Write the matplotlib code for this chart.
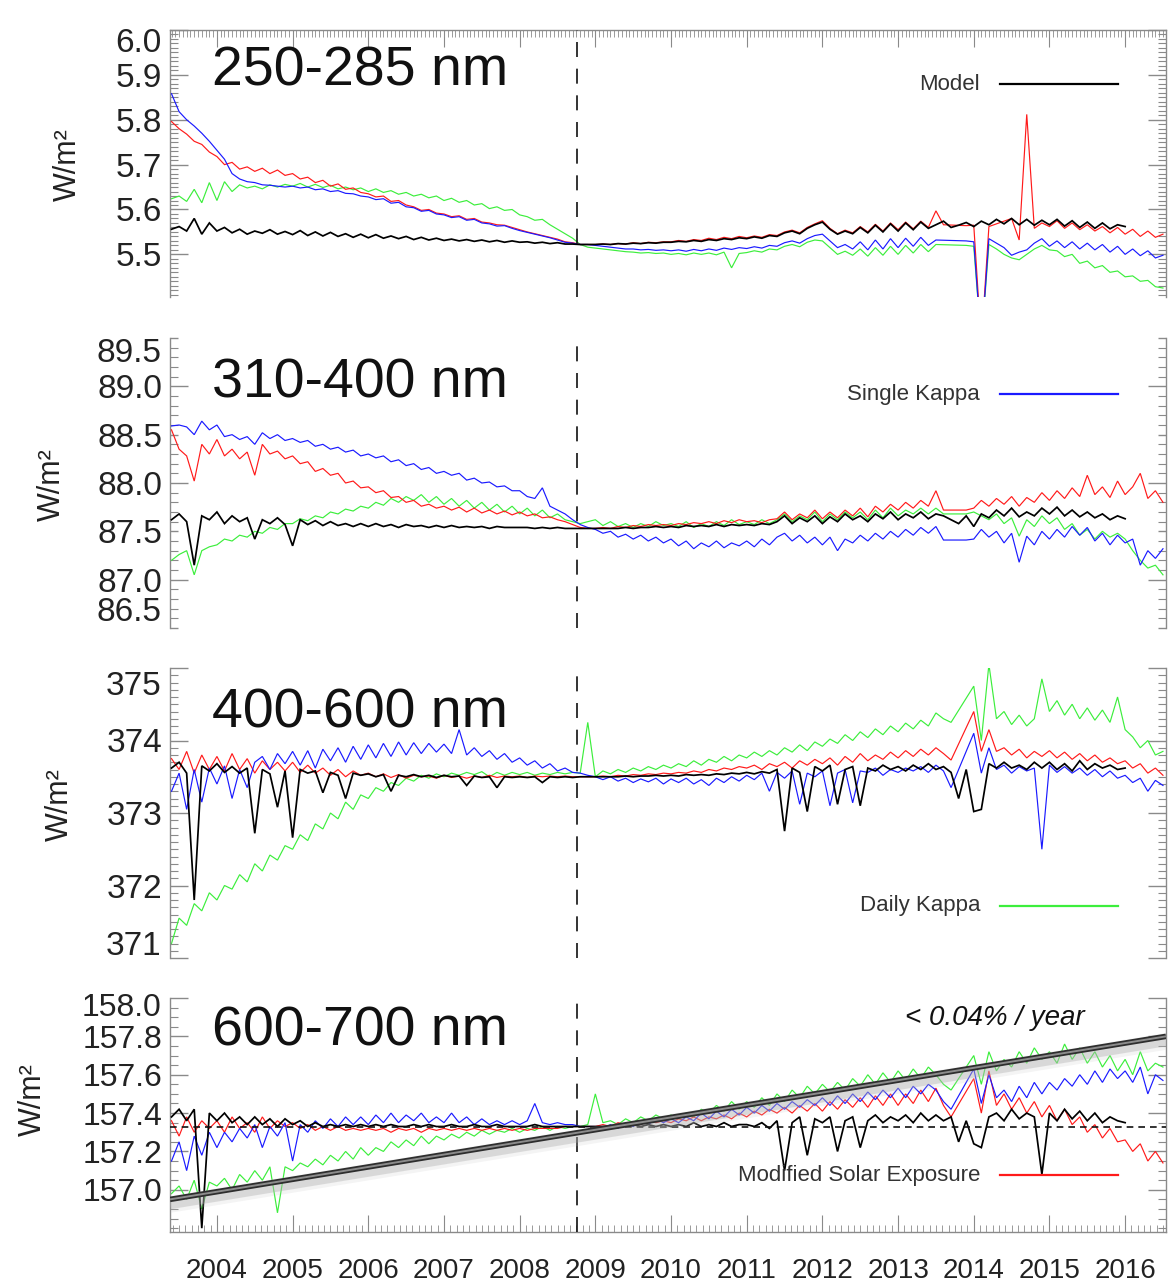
import numpy as np
import matplotlib
matplotlib.use("Agg")
import matplotlib.pyplot as plt
from matplotlib.lines import Line2D
from matplotlib.ticker import MultipleLocator, FixedLocator
import matplotlib.transforms as mtransforms

plt.rcParams['font.family'] = ['Liberation Sans', 'DejaVu Sans']

nan = float('nan')

# ---------------- data ----------------
years = np.round(2003.4 + 0.1 * np.arange(132), 2)   # sampling dates (decimal year)
year_ticks = list(range(2004, 2017))
split_year = 2008.76
x_range = [2003.38, 2016.54]

# ---- 250-285 nm ----
p1_model = [5.556, 5.562, 5.552, 5.580, 5.545, 5.570,
            5.552, 5.560, 5.548, 5.556, 5.545, 5.552, 5.547, 5.555, 5.545, 5.551,
            5.544, 5.553, 5.542, 5.550, 5.541, 5.549, 5.540, 5.546, 5.538, 5.545,
            5.537, 5.544, 5.536, 5.541, 5.535, 5.540, 5.533, 5.538, 5.532, 5.536,
            5.531, 5.534, 5.530, 5.533, 5.529, 5.532, 5.528, 5.531, 5.527, 5.530,
            5.527, 5.528, 5.525, 5.527, 5.524, 5.526, 5.523, 5.523, 5.522, 5.522,
            5.522, 5.523, 5.522, 5.524, 5.523, 5.525, 5.524, 5.526, 5.525, 5.527,
            5.527, 5.529, 5.528, 5.531, 5.529, 5.533, 5.531, 5.535, 5.533, 5.537,
            5.535, 5.539, 5.536, 5.542, 5.540, 5.548, 5.552, 5.546, 5.558, 5.566,
            5.572, 5.556, 5.545, 5.552, 5.546, 5.560, 5.548, 5.565, 5.550, 5.568,
            5.552, 5.570, 5.555, 5.572, 5.558, 5.566, 5.574, 5.560, 5.565, 5.571,
            5.562, 5.574, 5.566, 5.578, 5.568, 5.580, 5.566, 5.578, 5.565, 5.576,
            5.566, 5.578, 5.563, 5.575, 5.560, 5.572, 5.558, 5.570, 5.557, 5.566,
            5.562, nan, nan, nan, nan, nan]
p1_single = [5.858, 5.818, 5.800, 5.786, 5.770, 5.752,
             5.732, 5.712, 5.680, 5.668, 5.662, 5.660, 5.655, 5.654, 5.652, 5.650,
             5.652, 5.648, 5.650, 5.644, 5.646, 5.640, 5.642, 5.636, 5.635, 5.630,
             5.628, 5.622, 5.624, 5.614, 5.616, 5.606, 5.604, 5.596, 5.598, 5.590,
             5.588, 5.582, 5.584, 5.576, 5.578, 5.570, 5.568, 5.563, 5.564, 5.558,
             5.553, 5.549, 5.545, 5.541, 5.537, 5.532, 5.527, 5.525, 5.522, 5.522,
             5.520, 5.518, 5.516, 5.514, 5.512, 5.512, 5.510, 5.511, 5.509, 5.510,
             5.508, 5.510, 5.507, 5.511, 5.508, 5.512, 5.509, 5.514, 5.511, 5.515,
             5.513, 5.517, 5.514, 5.520, 5.518, 5.526, 5.530, 5.525, 5.535, 5.542,
             5.545, 5.530, 5.515, 5.522, 5.512, 5.528, 5.510, 5.532, 5.512, 5.535,
             5.515, 5.536, 5.518, 5.538, 5.520, 5.532, nan, nan, nan, 5.530,
             5.528, 5.300, 5.535, 5.525, 5.515, 5.498, 5.505, 5.510, 5.525, 5.535,
             5.518, 5.530, 5.515, 5.528, 5.512, 5.525, 5.510, 5.522, 5.505, 5.518,
             5.500, 5.512, 5.497, 5.508, 5.492, 5.498]
p1_daily = [5.624, 5.630, 5.618, 5.645, 5.615, 5.660,
            5.620, 5.662, 5.640, 5.655, 5.648, 5.652, 5.646, 5.655, 5.650, 5.656,
            5.652, 5.658, 5.650, 5.656, 5.649, 5.654, 5.646, 5.650, 5.644, 5.648,
            5.640, 5.646, 5.638, 5.642, 5.634, 5.638, 5.630, 5.634, 5.626, 5.630,
            5.620, 5.625, 5.616, 5.620, 5.610, 5.613, 5.602, 5.606, 5.598, 5.600,
            5.588, 5.584, 5.576, 5.578, 5.566, 5.556, 5.546, 5.536, 5.522, 5.516,
            5.514, 5.512, 5.510, 5.508, 5.506, 5.505, 5.503, 5.504, 5.502, 5.503,
            5.500, 5.502, 5.499, 5.503, 5.500, 5.503, 5.499, 5.505, 5.470, 5.502,
            5.504, 5.508, 5.505, 5.512, 5.510, 5.518, 5.522, 5.517, 5.527, 5.532,
            5.530, 5.515, 5.500, 5.507, 5.498, 5.512, 5.496, 5.515, 5.498, 5.518,
            5.500, 5.520, 5.503, 5.522, 5.506, 5.522, nan, nan, nan, 5.520,
            5.518, 5.300, 5.522, 5.512, 5.500, 5.492, 5.488, 5.500, 5.512, 5.520,
            5.510, 5.508, 5.495, 5.500, 5.480, 5.485, 5.470, 5.475, 5.460, 5.463,
            5.450, 5.452, 5.440, 5.442, 5.428, 5.425]
p1_mse = [5.796, 5.780, 5.768, 5.752, 5.745, 5.728,
          5.718, 5.700, 5.705, 5.690, 5.695, 5.685, 5.692, 5.680, 5.688, 5.676,
          5.680, 5.668, 5.672, 5.660, 5.665, 5.652, 5.657, 5.645, 5.648, 5.638,
          5.635, 5.628, 5.630, 5.618, 5.620, 5.610, 5.606, 5.598, 5.600, 5.592,
          5.590, 5.584, 5.586, 5.578, 5.580, 5.572, 5.570, 5.566, 5.565, 5.560,
          5.555, 5.550, 5.546, 5.542, 5.538, 5.534, 5.528, 5.526, 5.522, 5.522,
          5.522, 5.523, 5.522, 5.524, 5.523, 5.526, 5.524, 5.527, 5.526, 5.528,
          5.528, 5.531, 5.529, 5.533, 5.531, 5.536, 5.533, 5.538, 5.535, 5.540,
          5.537, 5.541, 5.538, 5.544, 5.542, 5.550, 5.554, 5.548, 5.560, 5.568,
          5.575, 5.558, 5.546, 5.554, 5.548, 5.562, 5.550, 5.567, 5.552, 5.570,
          5.555, 5.572, 5.557, 5.574, 5.560, 5.597, 5.566, nan, nan, 5.564,
          5.565, 5.300, 5.562, nan, nan, 5.580, 5.532, 5.812, 5.558, 5.570,
          5.562, 5.575, 5.558, 5.570, 5.555, 5.566, 5.552, 5.562, 5.548, 5.560,
          5.545, 5.556, 5.540, 5.552, 5.538, 5.545]

# ---- 310-400 nm ----
p2_model = [87.62, 87.68, 87.60, 87.15, 87.66, 87.62,
            87.70, 87.58, 87.66, 87.60, 87.64, 87.42, 87.62, 87.58, 87.64, 87.57,
            87.35, 87.62, 87.57, 87.61, 87.56, 87.60, 87.56, 87.58, 87.55, 87.58,
            87.55, 87.58, 87.55, 87.57, 87.54, 87.57, 87.55, 87.56, 87.54, 87.56,
            87.54, 87.56, 87.54, 87.55, 87.54, 87.55, 87.53, 87.55, 87.54, 87.54,
            87.54, 87.54, 87.53, 87.54, 87.53, 87.54, 87.53, 87.53, 87.53, 87.53,
            87.53, 87.53, 87.53, 87.53, 87.54, 87.53, 87.54, 87.54, 87.55, 87.54,
            87.55, 87.54, 87.56, 87.55, 87.56, 87.55, 87.57, 87.55, 87.57, 87.56,
            87.57, 87.56, 87.58, 87.57, 87.60, 87.66, 87.58, 87.64, 87.60, 87.66,
            87.58, 87.65, 87.60, 87.68, 87.62, 87.66, 87.60, 87.68, 87.63, 87.70,
            87.62, 87.68, 87.64, 87.70, 87.63, 87.68, 87.66, 87.62, 87.58, 87.66,
            87.55, 87.68, 87.64, 87.72, 87.66, 87.74, 87.65, 87.70, 87.66, 87.74,
            87.68, 87.75, 87.66, 87.72, 87.65, 87.70, 87.64, 87.68, 87.62, 87.66,
            87.63, nan, nan, nan, nan, nan]
p2_single = [88.59, 88.60, 88.58, 88.50, 88.64, 88.55,
             88.60, 88.48, 88.50, 88.45, 88.48, 88.40, 88.52, 88.46, 88.50, 88.44,
             88.46, 88.42, 88.44, 88.38, 88.40, 88.35, 88.37, 88.32, 88.34, 88.28,
             88.30, 88.26, 88.28, 88.22, 88.24, 88.18, 88.20, 88.14, 88.16, 88.10,
             88.12, 88.08, 88.10, 88.03, 88.05, 88.00, 88.01, 87.96, 87.97, 87.92,
             87.92, 87.86, 87.84, 87.95, 87.76, 87.72, 87.68, 87.62, 87.57, 87.54,
             87.52, 87.48, 87.50, 87.44, 87.47, 87.42, 87.46, 87.40, 87.44, 87.38,
             87.42, 87.35, 87.40, 87.32, 87.38, 87.34, 87.40, 87.33, 87.38, 87.35,
             87.40, 87.34, 87.42, 87.36, 87.44, 87.48, 87.40, 87.46, 87.38, 87.44,
             87.36, 87.44, 87.30, 87.42, 87.38, 87.46, 87.40, 87.48, 87.42, 87.50,
             87.44, 87.52, 87.46, 87.54, 87.48, 87.55, 87.41, nan, nan, 87.41,
             87.42, 87.52, 87.44, 87.50, 87.38, 87.48, 87.18, 87.45, 87.36, 87.50,
             87.42, 87.52, 87.44, 87.55, 87.46, 87.54, 87.40, 87.48, 87.36, 87.46,
             87.38, 87.42, 87.15, 87.30, 87.22, 87.32]
p2_daily = [87.20, 87.26, 87.30, 87.05, 87.30, 87.34,
            87.36, 87.42, 87.40, 87.46, 87.44, 87.50, 87.48, 87.54, 87.52, 87.58,
            87.58, 87.63, 87.61, 87.66, 87.64, 87.70, 87.68, 87.73, 87.71, 87.76,
            87.74, 87.80, 87.77, 87.84, 87.80, 87.86, 87.82, 87.88, 87.80, 87.86,
            87.78, 87.84, 87.76, 87.82, 87.74, 87.80, 87.72, 87.78, 87.70, 87.76,
            87.68, 87.74, 87.66, 87.72, 87.64, 87.68, 87.62, 87.60, 87.58, 87.60,
            87.62, 87.56, 87.60, 87.55, 87.58, 87.54, 87.58, 87.55, 87.60, 87.56,
            87.58, 87.55, 87.60, 87.54, 87.58, 87.55, 87.60, 87.56, 87.62, 87.57,
            87.60, 87.57, 87.62, 87.58, 87.62, 87.68, 87.60, 87.66, 87.62, 87.70,
            87.60, 87.68, 87.62, 87.70, 87.64, 87.70, 87.62, 87.72, 87.64, 87.74,
            87.66, 87.72, 87.68, 87.74, 87.68, 87.74, 87.68, nan, nan, 87.68,
            87.70, 87.66, 87.62, 87.68, 87.58, 87.64, 87.45, 87.62, 87.55, 87.66,
            87.58, 87.64, 87.52, 87.58, 87.46, 87.52, 87.42, 87.50, 87.44, 87.48,
            87.42, 87.30, 87.20, 87.12, 87.15, 87.05]
p2_mse = [88.55, 88.35, 88.28, 88.02, 88.40, 88.30,
          88.45, 88.28, 88.35, 88.25, 88.32, 88.08, 88.40, 88.30, 88.33, 88.25,
          88.28, 88.20, 88.22, 88.12, 88.15, 88.08, 88.10, 88.00, 88.02, 87.95,
          87.96, 87.90, 87.92, 87.85, 87.86, 87.80, 87.82, 87.76, 87.78, 87.74,
          87.76, 87.72, 87.75, 87.70, 87.74, 87.69, 87.72, 87.68, 87.71, 87.67,
          87.70, 87.66, 87.68, 87.64, 87.65, 87.62, 87.60, 87.57, 87.54, 87.53,
          87.53, 87.54, 87.53, 87.55, 87.54, 87.56, 87.55, 87.57, 87.56, 87.57,
          87.56, 87.58, 87.57, 87.59, 87.58, 87.60, 87.58, 87.61, 87.59, 87.62,
          87.60, 87.61, 87.59, 87.62, 87.63, 87.70, 87.62, 87.68, 87.64, 87.72,
          87.63, 87.70, 87.64, 87.72, 87.66, 87.74, 87.65, 87.76, 87.70, 87.78,
          87.72, 87.80, 87.74, 87.82, 87.76, 87.92, 87.72, nan, nan, 87.72,
          87.74, 87.82, 87.76, 87.84, 87.78, 87.86, 87.76, 87.85, 87.80, 87.90,
          87.82, 87.92, 87.84, 87.95, 87.86, 88.08, 87.88, 87.96, 87.85, 88.02,
          87.88, 87.96, 88.10, 87.84, 87.92, 87.80]

# ---- 400-600 nm ----
p3_model = [373.62, 373.70, 373.55, 371.80, 373.65, 373.58,
            373.68, 373.56, 373.64, 373.55, 373.62, 372.72, 373.60, 373.54, 373.08, 373.58,
            372.66, 373.60, 373.55, 373.58, 373.28, 373.56, 373.52, 373.20, 373.55, 373.52,
            373.54, 373.50, 373.53, 373.30, 373.52, 373.50, 373.53, 373.50, 373.52, 373.49,
            373.52, 373.50, 373.51, 373.38, 373.51, 373.49, 373.50, 373.35, 373.50, 373.49,
            373.50, 373.49, 373.50, 373.42, 373.50, 373.49, 373.50, 373.49, 373.50, 373.50,
            373.50, 373.50, 373.50, 373.50, 373.51, 373.50, 373.51, 373.51, 373.52, 373.51,
            373.52, 373.51, 373.53, 373.52, 373.53, 373.52, 373.54, 373.53, 373.55, 373.54,
            373.56, 373.54, 373.57, 373.55, 373.60, 372.75, 373.62, 373.56, 373.02, 373.64,
            373.58, 373.66, 373.12, 373.60, 373.64, 373.10, 373.62, 373.58, 373.66, 373.60,
            373.64, 373.58, 373.66, 373.60, 373.68, 373.60, 373.64, 373.56, 373.20, 373.60,
            373.02, 373.05, 373.68, 373.62, 373.70, 373.62, 373.66, 373.60, 373.70, 373.62,
            373.70, 373.60, 373.68, 373.58, 373.72, 373.60, 373.68, 373.62, 373.66, 373.60,
            373.62, nan, nan, nan, nan, nan]
p3_single = [373.30, 373.55, 373.05, 373.60, 373.15, 373.62,
             373.40, 373.65, 373.20, 373.60, 373.35, 373.70, 373.78, 373.60, 373.82, 373.68,
             373.85, 373.66, 373.86, 373.62, 373.88, 373.72, 373.90, 373.70, 373.92, 373.74,
             373.94, 373.76, 373.96, 373.78, 373.98, 373.80, 373.97, 373.82, 373.96, 373.84,
             373.95, 373.82, 374.15, 373.80, 373.90, 373.78, 373.86, 373.74, 373.82, 373.70,
             373.76, 373.66, 373.72, 373.62, 373.68, 373.58, 373.62, 373.56, 373.55, 373.52,
             373.50, 373.46, 373.50, 373.44, 373.48, 373.42, 373.47, 373.43, 373.48, 373.40,
             373.47, 373.42, 373.48, 373.40, 373.46, 373.38, 373.48, 373.42, 373.50, 373.44,
             373.52, 373.46, 373.55, 373.30, 373.56, 373.48, 373.58, 373.12, 373.55, 373.50,
             373.58, 373.10, 373.55, 373.60, 373.14, 373.58, 373.56, 373.62, 373.52, 373.60,
             373.56, 373.62, 373.58, 373.64, 373.56, 373.66, 373.58, 373.35, nan, nan,
             374.10, 373.55, 373.90, 373.60, 373.66, 373.55, 373.64, 373.58, 373.62, 372.50,
             373.66, 373.56, 373.64, 373.55, 373.62, 373.52, 373.60, 373.50, 373.58, 373.48,
             373.52, 373.42, 373.48, 373.30, 373.45, 373.38]
p3_daily = [371.20, 371.55, 371.45, 371.75, 371.65, 371.90,
            371.80, 372.00, 371.95, 372.15, 372.05, 372.30, 372.20, 372.42, 372.35, 372.55,
            372.50, 372.70, 372.62, 372.85, 372.78, 373.00, 372.92, 373.15, 373.05, 373.25,
            373.20, 373.35, 373.30, 373.42, 373.38, 373.48, 373.44, 373.52, 373.48, 373.54,
            373.50, 373.55, 373.52, 373.56, 373.53, 373.57, 373.50, 373.56, 373.52, 373.56,
            373.53, 373.56, 373.52, 373.55, 373.53, 373.56, 373.54, 373.56, 373.55, 374.25,
            373.50, 373.58, 373.54, 373.60, 373.56, 373.62, 373.58, 373.64, 373.60, 373.66,
            373.62, 373.68, 373.64, 373.72, 373.66, 373.74, 373.70, 373.78, 373.72, 373.80,
            373.76, 373.84, 373.78, 373.86, 373.80, 373.90, 373.84, 373.94, 373.86, 373.98,
            373.92, 374.02, 373.96, 374.08, 374.00, 374.12, 374.04, 374.16, 374.08, 374.20,
            374.12, 374.24, 374.16, 374.28, 374.20, 374.38, 374.30, 374.25, nan, nan,
            374.75, 374.00, 375.05, 374.30, 374.40, 374.22, 374.35, 374.20, 374.30, 374.85,
            374.40, 374.55, 374.35, 374.50, 374.30, 374.45, 374.28, 374.42, 374.25, 374.60,
            374.15, 374.05, 373.90, 374.00, 373.80, 373.85]
p3_mse = [373.75, 373.60, 373.85, 373.55, 373.80, 373.60,
          373.78, 373.58, 373.82, 373.60, 373.75, 373.55, 373.72, 373.60, 373.70, 373.58,
          373.70, 373.56, 373.66, 373.55, 373.62, 373.52, 373.60, 373.50, 373.58, 373.52,
          373.55, 373.50, 373.54, 373.49, 373.53, 373.48, 373.52, 373.50, 373.51, 373.48,
          373.52, 373.49, 373.51, 373.48, 373.51, 373.49, 373.52, 373.49, 373.51, 373.50,
          373.51, 373.49, 373.51, 373.50, 373.51, 373.50, 373.51, 373.50, 373.50, 373.50,
          373.50, 373.51, 373.50, 373.52, 373.51, 373.53, 373.52, 373.54, 373.53, 373.55,
          373.54, 373.56, 373.55, 373.58, 373.56, 373.60, 373.58, 373.62, 373.60, 373.64,
          373.62, 373.66, 373.60, 373.68, 373.64, 373.70, 373.62, 373.72, 373.66, 373.74,
          373.68, 373.76, 373.66, 373.78, 373.70, 373.82, 373.72, 373.80, 373.74, 373.84,
          373.76, 373.86, 373.78, 373.88, 373.80, 373.90, 373.82, 373.73, nan, nan,
          374.40, 373.85, 374.15, 373.85, 373.90, 373.80, 373.88, 373.76, 373.85, 373.78,
          373.86, 373.76, 373.84, 373.74, 373.82, 373.72, 373.80, 373.70, 373.76, 373.68,
          373.72, 373.62, 373.68, 373.55, 373.62, 373.52]

# ---- 600-700 nm ----
p4_model = [157.38, 157.42, 157.36, 157.42, 156.80, 157.40,
            157.36, 157.40, 157.35, 157.38, 157.34, 157.38, 157.34, 157.37, 157.33, 157.37,
            157.34, 157.36, 157.33, 157.35, 157.33, 157.34, 157.33, 157.34, 157.33, 157.34,
            157.33, 157.34, 157.33, 157.34, 157.33, 157.33, 157.34, 157.33, 157.34, 157.33,
            157.33, 157.34, 157.33, 157.33, 157.34, 157.33, 157.33, 157.34, 157.33, 157.33,
            157.33, 157.33, 157.34, 157.33, 157.33, 157.33, 157.33, 157.33, 157.33, 157.33,
            157.33, 157.33, 157.33, 157.34, 157.33, 157.34, 157.33, 157.34, 157.33, 157.34,
            157.33, 157.34, 157.33, 157.35, 157.33, 157.34, 157.33, 157.35, 157.33, 157.34,
            157.34, 157.33, 157.35, 157.32, 157.36, 157.10, 157.35, 157.38, 157.18, 157.37,
            157.35, 157.38, 157.20, 157.36, 157.38, 157.22, 157.36, 157.39, 157.35, 157.38,
            157.36, 157.39, 157.35, 157.40, 157.36, 157.39, 157.36, 157.38, 157.25, 157.36,
            157.24, 157.22, 157.38, 157.40, 157.36, 157.42, 157.37, 157.40, 157.38, 157.08,
            157.40, 157.36, 157.42, 157.37, 157.41, 157.36, 157.40, 157.35, 157.38, 157.36,
            157.35, nan, nan, nan, nan, nan]
p4_single = [157.15, 157.25, 157.10, 157.28, 157.18, 157.30,
             157.22, 157.30, 157.25, 157.32, 157.27, 157.34, 157.22, 157.33, 157.28, 157.35,
             157.15, 157.34, 157.30, 157.36, 157.32, 157.37, 157.33, 157.38, 157.34, 157.38,
             157.34, 157.39, 157.35, 157.40, 157.35, 157.39, 157.36, 157.40, 157.35, 157.38,
             157.35, 157.40, 157.35, 157.38, 157.34, 157.37, 157.34, 157.36, 157.34, 157.36,
             157.34, 157.36, 157.45, 157.35, 157.34, 157.35, 157.34, 157.34, 157.33, 157.33,
             157.33, 157.32, 157.34, 157.32, 157.35, 157.33, 157.36, 157.34, 157.37, 157.35,
             157.37, 157.35, 157.38, 157.36, 157.40, 157.37, 157.41, 157.38, 157.42, 157.39,
             157.43, 157.40, 157.44, 157.41, 157.45, 157.42, 157.46, 157.43, 157.47, 157.44,
             157.48, 157.44, 157.49, 157.45, 157.50, 157.46, 157.51, 157.47, 157.52, 157.48,
             157.53, 157.48, 157.54, 157.50, 157.55, 157.52, 157.46, 157.42, nan, nan,
             157.63, 157.45, 157.60, 157.48, 157.52, 157.46, 157.54, 157.48, 157.56, 157.50,
             157.56, 157.52, 157.58, 157.54, 157.60, 157.55, 157.62, 157.56, 157.63, 157.58,
             157.62, 157.56, 157.64, 157.50, 157.60, 157.57]
p4_daily = [156.98, 157.02, 156.95, 157.05, 156.90, 157.04,
            157.02, 157.06, 157.00, 157.08, 157.04, 157.10, 157.05, 157.12, 156.88, 157.12,
            157.10, 157.14, 157.12, 157.16, 157.13, 157.18, 157.15, 157.20, 157.16, 157.22,
            157.18, 157.22, 157.20, 157.25, 157.22, 157.26, 157.23, 157.28, 157.24, 157.28,
            157.26, 157.29, 157.27, 157.30, 157.28, 157.31, 157.29, 157.31, 157.30, 157.32,
            157.30, 157.32, 157.31, 157.33, 157.31, 157.33, 157.32, 157.33, 157.33, 157.34,
            157.50, 157.35, 157.36, 157.34, 157.37, 157.35, 157.38, 157.36, 157.39, 157.37,
            157.39, 157.37, 157.40, 157.38, 157.42, 157.40, 157.44, 157.41, 157.46, 157.42,
            157.46, 157.43, 157.48, 157.44, 157.50, 157.46, 157.52, 157.48, 157.54, 157.50,
            157.55, 157.51, 157.56, 157.52, 157.58, 157.54, 157.60, 157.55, 157.61, 157.56,
            157.62, 157.57, 157.63, 157.58, 157.64, 157.60, 157.55, 157.52, nan, nan,
            157.70, 157.55, 157.72, 157.62, 157.68, 157.64, 157.72, 157.66, 157.74, 157.68,
            157.72, 157.66, 157.76, 157.68, 157.74, 157.66, 157.72, 157.64, 157.70, 157.62,
            157.68, 157.60, 157.72, 157.62, 157.66, 157.64]
p4_mse = [157.36, 157.28, 157.38, 157.30, 157.36, 157.32,
          157.36, 157.30, 157.38, 157.32, 157.35, 157.30, 157.38, 157.32, 157.36, 157.33,
          157.35, 157.32, 157.34, 157.31, 157.33, 157.31, 157.33, 157.31, 157.32, 157.31,
          157.32, 157.31, 157.32, 157.30, 157.32, 157.31, 157.32, 157.30, 157.32, 157.31,
          157.32, 157.31, 157.32, 157.31, 157.32, 157.31, 157.32, 157.31, 157.32, 157.31,
          157.32, 157.31, 157.32, 157.32, 157.32, 157.32, 157.33, 157.33, 157.33, 157.33,
          157.33, 157.34, 157.33, 157.35, 157.34, 157.35, 157.34, 157.36, 157.35, 157.36,
          157.35, 157.37, 157.36, 157.38, 157.36, 157.38, 157.37, 157.39, 157.37, 157.40,
          157.38, 157.41, 157.39, 157.42, 157.40, 157.43, 157.40, 157.44, 157.41, 157.45,
          157.41, 157.46, 157.42, 157.47, 157.43, 157.48, 157.43, 157.49, 157.44, 157.50,
          157.44, 157.50, 157.45, 157.52, 157.46, 157.53, 157.44, 157.38, nan, nan,
          157.58, 157.40, 157.62, 157.44, 157.50, 157.42, 157.48, 157.40, 157.46, 157.38,
          157.44, 157.36, 157.42, 157.34, 157.38, 157.30, 157.34, 157.27, 157.32, 157.25,
          157.26, 157.20, 157.24, 157.15, 157.20, 157.14]

trend_years = [2003.38, 2016.54]
trend_vals = [156.95, 157.80]
reference_level_600 = 157.33

titles = ["250-285 nm", "310-400 nm", "400-600 nm", "600-700 nm"]
legend_names = ["Model", "Single Kappa", "Daily Kappa", "Modified Solar Exposure"]
trend_label = "< 0.04% / year"

# ---------------- styling / layout ----------------
C_MODEL, C_SINGLE, C_DAILY, C_MSE = "#000000", "#1a1aff", "#3cee3c", "#ff1a1a"
legend_colors = [C_MODEL, C_SINGLE, C_DAILY, C_MSE]
SPINE = "#8a8a8a"
TXT = "#222222"
W, H = 1171, 1283

boxes = [(170, 30, 1166, 297), (170, 338, 1166, 628),
         (170, 668, 1166, 958), (170, 998, 1166, 1232)]
ylims = [(5.405, 6.0), (86.5, 89.5), (371.0, 375.0), (156.78, 158.0)]
yticks = [[5.5, 5.6, 5.7, 5.8, 5.9, 6.0],
          [86.5, 87.0, 87.5, 88.0, 88.5, 89.0, 89.5],
          [371, 372, 373, 374, 375],
          [157.0, 157.2, 157.4, 157.6, 157.8, 158.0]]
yfmt = ["{:.1f}", "{:.1f}", "{:.0f}", "{:.1f}"]
yminor = [0.01, 0.1, 0.1, 0.05]
ysize = [24, 24, 24, 23]
# label offsets (points, positive = down) for the end labels
end_shift = [{6.0: 10}, {89.5: 11, 86.5: -11}, {375: 13, 371: -8}, {158.0: 7}]
title_base = [85, 398, 728, 1045]
legend_y = [84, 394, 906, 1175]
ylabel_pos = [(68, 165), (52, 485), (60, 805), (33, 1100)]

fig = plt.figure(figsize=(W / 100, H / 100), dpi=100)
fig.patch.set_facecolor("white")

series = [(p1_model, p1_single, p1_daily, p1_mse),
          (p2_model, p2_single, p2_daily, p2_mse),
          (p3_model, p3_single, p3_daily, p3_mse),
          (p4_model, p4_single, p4_daily, p4_mse)]


def draw(ax, vals, color, lw, z):
    v = np.asarray(vals, dtype=float)
    m = ~np.isnan(v)
    ax.plot(years[m], v[m], color=color, lw=lw, zorder=z, solid_joinstyle="miter")


ylab_pad = 5.5
for k in range(4):
    x0, y0, x1, y1 = boxes[k]
    ax = fig.add_axes([x0 / W, 1 - y1 / H, (x1 - x0) / W, (y1 - y0) / H])
    ax.set_xlim(*x_range)
    ax.set_ylim(*ylims[k])
    model, single, daily, mse = series[k]
    draw(ax, daily, C_DAILY, 0.85, 2)
    draw(ax, mse, C_MSE, 0.85, 3)
    draw(ax, single, C_SINGLE, 0.85, 4)
    draw(ax, model, C_MODEL, 1.25, 5)
    ax.axvline(split_year, color="#111111", lw=1.2, dashes=(9, 7), zorder=6)

    for s in ax.spines.values():
        s.set_color(SPINE)
        s.set_linewidth(1.0)
    ax.spines["bottom"].set_visible(k == 3)
    ax.spines["top"].set_visible(k == 0)

    # y axis ticks
    ax.yaxis.set_major_locator(FixedLocator(yticks[k]))
    ax.yaxis.set_minor_locator(MultipleLocator(yminor[k]))
    labels = []
    for t in yticks[k]:
        labels.append("" if t in end_shift[k] else yfmt[k].format(t))
    ax.set_yticklabels(labels)
    ax.tick_params(axis="y", which="both", direction="in", left=True, right=True,
                   color=SPINE, labelcolor=TXT, labelsize=ysize[k], pad=ylab_pad)
    ax.tick_params(axis="y", which="major", length=13, width=1.0)
    ax.tick_params(axis="y", which="minor", length=5.5, width=0.8)
    for t, sh in end_shift[k].items():
        ax.annotate(yfmt[k].format(t), xy=(0, t), xycoords=("axes fraction", "data"),
                    xytext=(-ylab_pad - 0.5, -sh), textcoords="offset points",
                    ha="right", va="center", fontsize=ysize[k], color=TXT,
                    annotation_clip=False)
    if k == 1:
        for tk, tv in zip(ax.yaxis.get_major_ticks(), yticks[k]):
            if abs(tv - round(tv)) > 1e-6:
                tk.tick1line.set_markersize(5.5)
                tk.tick2line.set_markersize(5.5)

    # x axis ticks
    ax.xaxis.set_major_locator(FixedLocator(year_ticks))
    if k == 0:
        ax.xaxis.set_minor_locator(MultipleLocator(0.05))
        ax.tick_params(axis="x", which="both", direction="in", top=True, bottom=False,
                       labeltop=False, labelbottom=False, color=SPINE)
        ax.tick_params(axis="x", which="major", length=12)
        ax.tick_params(axis="x", which="minor", length=5)
    elif k == 3:
        ax.xaxis.set_minor_locator(MultipleLocator(1 / 12))
        ax.set_xticklabels([str(y) for y in year_ticks])
        ax.tick_params(axis="x", which="both", direction="in", top=False, bottom=True,
                       labelbottom=True, color=SPINE, labelcolor=TXT, labelsize=20, pad=19)
        ax.tick_params(axis="x", which="major", length=12)
        ax.tick_params(axis="x", which="minor", length=5)
    else:
        ax.tick_params(axis="x", which="both", top=False, bottom=False,
                       labeltop=False, labelbottom=False)

    if k == 3:
        ax.axhline(reference_level_600, color="#111111", lw=1.2, dashes=(4, 3), zorder=6)
        shadow = mtransforms.offset_copy(ax.transData, fig=fig, x=0, y=-5, units="dots")
        ax.plot(trend_years, trend_vals, color="#a0a0a0", lw=7, alpha=0.35,
                transform=shadow, zorder=7, solid_capstyle="butt")
        ax.plot(trend_years, trend_vals, color="#c8c8c8", lw=12, alpha=0.2,
                transform=shadow, zorder=7, solid_capstyle="butt")
        ax.plot(trend_years, trend_vals, color="#2e2e2e", lw=4.0, zorder=8,
                solid_capstyle="butt")
        ax.plot(trend_years, trend_vals, color="#8c8c8c", lw=1.4, zorder=9,
                solid_capstyle="butt")
        fig.text(905 / W, 1 - 1018 / H, trend_label, fontsize=20, style="italic",
                 ha="left", va="center", color="#111111")

    # panel title
    fig.text(212 / W, 1 - title_base[k] / H, titles[k], fontsize=40,
             ha="left", va="baseline", color="#111111")
    # legend entry
    fig.text(980 / W, 1 - legend_y[k] / H, legend_names[k], fontsize=16,
             ha="right", va="center", color="#333333")
    fig.add_artist(Line2D([1000 / W, 1118 / W], [1 - legend_y[k] / H] * 2,
                          color=legend_colors[k], lw=1.6, transform=fig.transFigure))
    # y label
    lx, ly = ylabel_pos[k]
    fig.text(lx / W, 1 - ly / H, "W/m\u00b2", rotation=90, fontsize=22,
             ha="center", va="center", color=TXT)

fig.savefig("out.png", dpi=100)
